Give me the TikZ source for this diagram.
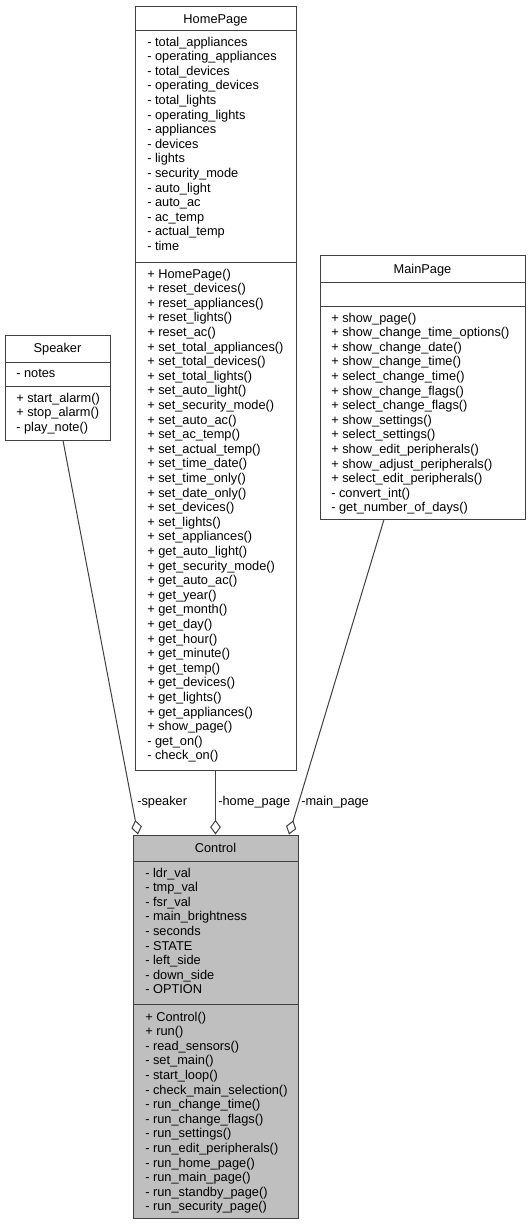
\documentclass[tikz,border=0pt]{standalone}
\usepackage{fontspec}
\setmainfont{Liberation Sans}
\usetikzlibrary{arrows.meta,fit}

\definecolor{edgegrey}{HTML}{404040}
\definecolor{curgrey}{HTML}{BFBFBF}

\tikzset{
  classbox/.style={draw=edgegrey, line width=0.75pt, inner sep=0pt, rectangle},
  member/.style={anchor=base west, inner sep=0pt, font=\fontsize{9.6}{11}\selectfont},
  title/.style={anchor=base, inner sep=0pt, font=\fontsize{9.6}{11}\selectfont},
  aggr/.style={draw=edgegrey, line width=0.75pt, -{Diamond[open, length=11pt, width=8pt]}}
}

\begin{document}
\begin{tikzpicture}[x=0.75pt, y=-0.75pt]
                    \useasboundingbox (0,0) rectangle (531,1225);
                    % Boxes
                    \node[classbox, fit={(135,6) (296,770)}] (homepage) {};
                    \node[classbox, fit={(5,335) (110,440)}] (speaker) {};
                    \node[classbox, fit={(320,255) (525,519)}] (mainpage) {};
                    \node[classbox, fill=curgrey, fit={(133,835) (298,1218)}] (control) {};
                    % Dividers
                    \draw[edgegrey, line width=0.75pt] (homepage.west |- 0,30) -- (homepage.east |- 0,30);
                    \draw[edgegrey, line width=0.75pt] (homepage.west |- 0,262) -- (homepage.east |- 0,262);
                    \draw[edgegrey, line width=0.75pt] (speaker.west |- 0,362) -- (speaker.east |- 0,362);
                    \draw[edgegrey, line width=0.75pt] (speaker.west |- 0,386) -- (speaker.east |- 0,386);
                    \draw[edgegrey, line width=0.75pt] (mainpage.west |- 0,282) -- (mainpage.east |- 0,282);
                    \draw[edgegrey, line width=0.75pt] (mainpage.west |- 0,306) -- (mainpage.east |- 0,306);
                    \draw[edgegrey, line width=0.75pt] (control.west |- 0,861) -- (control.east |- 0,861);
                    \draw[edgegrey, line width=0.75pt] (control.west |- 0,1004) -- (control.east |- 0,1004);
                    % Titles
                    \node[title] (hp-title) at (homepage.north |- 0,23) {HomePage};
                    \node[title] (sp-title) at (speaker.north |- 0,352) {Speaker};
                    \node[title] (mp-title) at (mainpage.north |- 0,273) {MainPage};
                    \node[title] (ct-title) at (control.north |- 0,852) {Control};
                    % HomePage members
                    \foreach \t [count=\i] in {total\_appliances, operating\_appliances, total\_devices,
                        operating\_devices, total\_lights, operating\_lights, appliances, devices, lights,
                        security\_mode, auto\_light, auto\_ac, ac\_temp, actual\_temp, time}
                        \node[member] (hp-a\i) at (147, {46+(\i-1)*14.6}) {- \t};
                    \foreach \t [count=\i] in {+ HomePage(), + reset\_devices(), + reset\_appliances(),
                        + reset\_lights(), + reset\_ac(), + set\_total\_appliances(), + set\_total\_devices(),
                        + set\_total\_lights(), + set\_auto\_light(), + set\_security\_mode(), + set\_auto\_ac(),
                        + set\_ac\_temp(), + set\_actual\_temp(), + set\_time\_date(), + set\_time\_only(),
                        + set\_date\_only(), + set\_devices(), + set\_lights(), + set\_appliances(),
                        + get\_auto\_light(), + get\_security\_mode(), + get\_auto\_ac(), + get\_year(),
                        + get\_month(), + get\_day(), + get\_hour(), + get\_minute(), + get\_temp(),
                        + get\_devices(), + get\_lights(), + get\_appliances(), + show\_page(),
                        - get\_on(), - check\_on()}
                        \node[member] (hp-m\i) at (147, {278+(\i-1)*14.6}) {\t};
                    % Speaker members
                    \node[member] (sp-a1) at (16,377) {- notes};
                    \foreach \t [count=\i] in {+ start\_alarm(), + stop\_alarm(), - play\_note()}
                        \node[member] (sp-m\i) at (16, {402+(\i-1)*14.6}) {\t};
                    % MainPage members
                    \foreach \t [count=\i] in {+ show\_page(), + show\_change\_time\_options(),
                        + show\_change\_date(), + show\_change\_time(), + select\_change\_time(),
                        + show\_change\_flags(), + select\_change\_flags(), + show\_settings(),
                        + select\_settings(), + show\_edit\_peripherals(), + show\_adjust\_peripherals(),
                        + select\_edit\_peripherals(), - convert\_int(), - get\_number\_of\_days()}
                        \node[member] (mp-m\i) at (331, {322+(\i-1)*14.6}) {\t};
                    % Control members
                    \foreach \t [count=\i] in {ldr\_val, tmp\_val, fsr\_val, main\_brightness, seconds,
                        STATE, left\_side, down\_side, OPTION}
                        \node[member] (ct-a\i) at (145, {877+(\i-1)*14.6}) {- \t};
                    \foreach \t [count=\i] in {+ Control(), + run(), - read\_sensors(), - set\_main(),
                        - start\_loop(), - check\_main\_selection(), - run\_change\_time(),
                        - run\_change\_flags(), - run\_settings(), - run\_edit\_peripherals(),
                        - run\_home\_page(), - run\_main\_page(), - run\_standby\_page(),
                        - run\_security\_page()}
                        \node[member] (ct-m\i) at (145, {1021+(\i-1)*14.6}) {\t};
                    % Edges
                    \draw[aggr] (speaker.south -| 63,0) -- (control.north -| 138,0);
                    \draw[aggr] (homepage.south) -- (control.north -| homepage.south);
                    \draw[aggr] (mainpage.south -| 384,0) -- (control.north -| 289,0);
                    % Edge labels
                    \node[member] (l-speaker) at (137,805) {-speaker};
                    \node[member] (l-home) at (218,805) {-home\_page};
                    \node[member] (l-main) at (301,805) {-main\_page};
                \end{tikzpicture}
\end{document}
